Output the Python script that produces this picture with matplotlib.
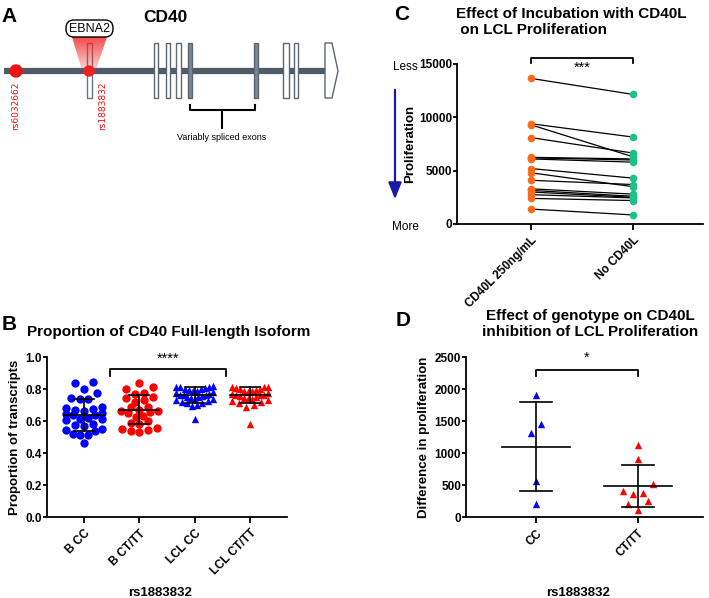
import numpy as np
import matplotlib.pyplot as plt
from matplotlib.patches import Rectangle, Polygon, FancyBboxPatch, Circle

plt.rcParams['font.family'] = ['Liberation Sans', 'DejaVu Sans']

# ---- данные ----
# панель A: схема гена (пиксели)
exon_x = [154, 166, 176, 188, 254, 283, 294]
exon_w = [4, 4, 5, 4, 4, 6, 4]
exon_filled = [False, False, False, True, True, False, False]

# панель B: доля полноразмерной изоформы
b_groups = ['B CC', 'B CT/TT', 'LCL CC', 'LCL CT/TT']
b_cc = [0.845, 0.835, 0.80, 0.775, 0.745, 0.74, 0.735, 0.69, 0.68, 0.675, 0.67, 0.665,
        0.65, 0.645, 0.64, 0.635, 0.62, 0.615, 0.61, 0.605, 0.58, 0.575, 0.57, 0.55,
        0.545, 0.535, 0.52, 0.515, 0.51, 0.46]
b_ct = [0.84, 0.81, 0.80, 0.775, 0.77, 0.75, 0.745, 0.73, 0.72, 0.69, 0.685, 0.67,
        0.665, 0.66, 0.655, 0.65, 0.63, 0.625, 0.60, 0.59, 0.58, 0.555, 0.55, 0.545,
        0.535, 0.53]
lcl_cc = [0.82, 0.815, 0.81, 0.81, 0.805, 0.80, 0.80, 0.795, 0.79, 0.785, 0.78, 0.775,
          0.77, 0.765, 0.76, 0.76, 0.755, 0.75, 0.75, 0.745, 0.74, 0.735, 0.73, 0.725,
          0.72, 0.715, 0.71, 0.70, 0.695, 0.61]
lcl_ct = [0.815, 0.81, 0.81, 0.805, 0.80, 0.80, 0.795, 0.79, 0.785, 0.78, 0.775, 0.77,
          0.765, 0.76, 0.76, 0.755, 0.75, 0.745, 0.74, 0.735, 0.73, 0.725, 0.72, 0.71,
          0.70, 0.69, 0.58]
b_mean = [0.64, 0.67, 0.76, 0.76]
b_sd = [0.10, 0.09, 0.05, 0.05]

# панель C: пролиферация (парные)
c_groups = ['CD40L 250ng/mL', 'No CD40L']
c_cd40l = [13650, 9400, 9300, 8100, 6250, 6200, 6100, 5200, 4800, 4100, 3300, 3150,
           3000, 2750, 2400, 1400]
c_none = [12150, 8150, 6300, 6650, 6100, 6000, 5800, 4300, 3500, 3700, 2800, 2600,
          2500, 2450, 2200, 850]

# панель D: разница в пролиферации
d_groups = ['CC', 'CT/TT']
d_cc = [1910, 1450, 1320, 570, 210]
d_ct = [1120, 900, 510, 405, 380, 365, 250, 200, 115]
d_mean = [1100, 480]
d_sd = [690, 330]

W, H = 709, 598
fig = plt.figure(figsize=(7.09, 5.98), dpi=100)


def px_axes(l, t, r, b):
    return fig.add_axes([l / W, 1 - b / H, (r - l) / W, (b - t) / H])


def swarm(vals, binh, step, maxw):
    vals = np.asarray(vals, float)
    order = np.argsort(vals)
    off = np.zeros(len(vals))
    groups, cur = [], [order[0]]
    for i in order[1:]:
        if vals[i] - vals[cur[0]] < binh:
            cur.append(i)
        else:
            groups.append(cur)
            cur = [i]
    groups.append(cur)
    for g in groups:
        n = len(g)
        st = step if n < 2 else min(step, 2 * maxw / (n - 1))
        pos = (np.arange(n) - (n - 1) / 2) * st
        # раскладываем от центра в стороны
        idx = np.argsort(np.abs(pos), kind='stable')
        for k, j in enumerate(g):
            off[j] = pos[idx[k]]
    return off


def style_axes(ax):
    for s in ['top', 'right']:
        ax.spines[s].set_visible(False)
    for s in ['left', 'bottom']:
        ax.spines[s].set_linewidth(1.3)
    ax.tick_params(width=1.3, length=4, labelsize=8.5)
    ax.tick_params(axis='y', length=3, pad=0.5)
    for lab in ax.get_xticklabels() + ax.get_yticklabels():
        lab.set_fontweight('bold')
    ax.set_facecolor('none')


# ---- оверлей для схемы и подписей ----
ov = fig.add_axes([0, 0, 1, 1])
ov.set_xlim(0, W)
ov.set_ylim(H, 0)
ov.axis('off')

# панель A
gray = '#4f5b69'
ov.add_patch(Rectangle((87, 43), 5, 55, fc='white', ec='#6a7480', lw=1, zorder=2))
ov.plot([4, 325], [71, 71], color=gray, lw=4.5, solid_capstyle='butt', zorder=3)
for x, w, f in zip(exon_x, exon_w, exon_filled):
    ov.add_patch(Rectangle((x, 43), w, 55, fc='#7d8894' if f else 'white',
                           ec='#5c6672', lw=1, zorder=4))
ov.add_patch(Polygon([[325, 43], [332, 43], [338, 71], [332, 98], [325, 98]],
                     closed=True, fc='white', ec='#5c6672', lw=1, zorder=4))
# красный "луч" от EBNA2
grad = np.zeros((60, 1, 4))
grad[:, 0, 0] = 0.95
grad[:, 0, 1] = 0.15
grad[:, 0, 2] = 0.15
grad[:, 0, 3] = np.linspace(0.85, 0.15, 60)
im = ov.imshow(grad, extent=(70, 108, 72, 36), aspect='auto', zorder=5)
beam = Polygon([[72, 37], [107, 37], [96, 70], [82, 70]], closed=True,
               transform=ov.transData, fc='none', ec='none')
ov.add_patch(beam)
im.set_clip_path(beam)
ov.set_xlim(0, W)
ov.set_ylim(H, 0)
ov.add_patch(FancyBboxPatch((66, 20), 47, 17, boxstyle='round,pad=0,rounding_size=8',
                            fc='white', ec='black', lw=1, zorder=6))
ov.text(89.5, 29, 'EBNA2', ha='center', va='center', fontsize=9, zorder=7)
ov.add_patch(Circle((16, 71), 6, color='#ee1111', zorder=6))
ov.add_patch(Circle((89, 71), 5, color='#ee2222', zorder=6))
ov.text(16, 82, 'rs6032662', rotation=90, ha='center', va='top', color='#ee1111',
        fontsize=6.5, family='DejaVu Sans')
ov.text(103, 82, 'rs1883832', rotation=90, ha='center', va='top', color='#ee1111',
        fontsize=6.5, family='DejaVu Sans')
ov.text(165, 17, 'CD40', ha='center', va='center', fontsize=12.5, fontweight='bold')
ov.plot([190, 190, 255, 255], [105, 110, 110, 105], color='black', lw=1.5)
ov.plot([222, 222], [110, 128], color='black', lw=1.5)
ov.text(222, 138, 'Variably spliced exons', ha='center', va='center', fontsize=6.5)

# буквы панелей
for lab, x, y in [('A', 9, 17), ('B', 9, 325), ('C', 402, 14), ('D', 403, 320)]:
    ov.text(x, y, lab, ha='center', va='center', fontsize=15, fontweight='bold')

# стрелка "Less -> More"
ov.text(405, 67, 'Less', ha='center', va='center', fontsize=8.5)
ov.text(405, 227, 'More', ha='center', va='center', fontsize=8.5)
ov.annotate('', xy=(395, 202), xytext=(395, 87),
            arrowprops=dict(arrowstyle='-|>,head_width=0.4,head_length=1.0',
                            color='#1a1aa8', lw=1.6))

# ---- панель B ----
axb = px_axes(47, 357, 287, 517)
bx = np.arange(4)
b_data = [b_cc, b_ct, lcl_cc, lcl_ct]
b_col = ['#0000ff', '#ff0000', '#0000ff', '#ff0000']
b_mk = ['o', 'o', '^', '^']
b_ms = [36, 36, 28, 28]
for i, vals in enumerate(b_data):
    off = swarm(vals, 0.045, 0.16, 0.33)
    axb.scatter(bx[i] + off, vals, s=b_ms[i], c=b_col[i], marker=b_mk[i],
                linewidths=0, zorder=3, clip_on=False)
    m, s = b_mean[i], b_sd[i]
    axb.plot([bx[i] - 0.36, bx[i] + 0.36], [m, m], color='black', lw=1.2, zorder=4)
    axb.plot([bx[i], bx[i]], [m - s, m + s], color='black', lw=1.2, zorder=4)
    for e in (m - s, m + s):
        axb.plot([bx[i] - 0.18, bx[i] + 0.18], [e, e], color='black', lw=1.2, zorder=4)
axb.set_xlim(-0.67, 3.67)
axb.set_ylim(0, 1.0)
axb.set_yticks(np.arange(0, 1.01, 0.2))
axb.set_yticklabels(['%.1f' % v for v in np.arange(0, 1.01, 0.2)])
axb.set_xticks(bx)
axb.set_xticklabels(b_groups, rotation=45, ha='right', va='top', rotation_mode='anchor')
style_axes(axb)
axb.set_ylabel('Proportion of transcripts', fontsize=9.5, fontweight='bold', labelpad=3)
axb.plot([0.47, 0.47, 2.57, 2.57], [0.88, 0.925, 0.925, 0.88], color='black', lw=1.3,
         clip_on=False)
axb.text(1.52, 0.99, '****', ha='center', va='center', fontsize=10.5)
fig.text(160 / W, 1 - 593 / H, 'rs1883832', ha='center', va='center', fontsize=9.5,
         fontweight='bold')
fig.text(27 / W, 1 - 332 / H, 'Proportion of CD40 Full-length Isoform', ha='left',
         va='center', fontsize=11, fontweight='bold')

# ---- панель C ----
axc = px_axes(457, 64, 703, 224)
for a, b in zip(c_cd40l, c_none):
    axc.plot([0, 1], [a, b], color='black', lw=0.9, zorder=2)
axc.scatter(np.zeros(len(c_cd40l)), c_cd40l, s=30, c='#f96a1b', linewidths=0, zorder=3,
            clip_on=False)
axc.scatter(np.ones(len(c_none)), c_none, s=30, c='#1fbf8a', linewidths=0, zorder=3,
            clip_on=False)
axc.set_xlim(-0.725, 1.686)
axc.set_ylim(0, 15000)
axc.set_yticks([0, 5000, 10000, 15000])
axc.set_xticks([0, 1])
axc.set_xticklabels(c_groups, rotation=45, ha='right', va='top', rotation_mode='anchor')
style_axes(axc)
axc.set_ylabel('Proliferation', fontsize=9.5, fontweight='bold', labelpad=2)
axc.plot([0, 0, 1, 1], [15100, 15560, 15560, 15100], color='black', lw=1.3, clip_on=False)
axc.text(0.5, 14650, '***', ha='center', va='center', fontsize=10.5)
fig.text(456 / W, 1 - 22 / H, 'Effect of Incubation with CD40L\n on LCL Proliferation',
         ha='left', va='center', fontsize=11, fontweight='bold', linespacing=1.1)

# ---- панель D ----
axd = px_axes(466, 357, 703, 517)
d_data = [d_cc, d_ct]
d_col = ['#0000ff', '#ff0000']
for i, vals in enumerate(d_data):
    off = swarm(vals, 160, 0.095, 0.3)
    axd.scatter(i + off, vals, s=28, c=d_col[i], marker='^', linewidths=0, zorder=3,
                clip_on=False)
    m, s = d_mean[i], d_sd[i]
    axd.plot([i - 0.33, i + 0.33], [m, m], color='black', lw=1.2, zorder=4)
    axd.plot([i, i], [m - s, m + s], color='black', lw=1.2, zorder=4)
    for e in (m - s, m + s):
        axd.plot([i - 0.16, i + 0.16], [e, e], color='black', lw=1.2, zorder=4)
axd.set_xlim(-0.686, 1.637)
axd.set_ylim(0, 2500)
axd.set_yticks(np.arange(0, 2501, 500))
axd.set_xticks([0, 1])
axd.set_xticklabels(d_groups, rotation=45, ha='right', va='top', rotation_mode='anchor')
style_axes(axd)
axd.set_ylabel('Difference in proliferation', fontsize=9.5, fontweight='bold', labelpad=3)
axd.plot([0, 0, 1, 1], [2203, 2297, 2297, 2203], color='black', lw=1.3, clip_on=False)
axd.text(0.5, 2480, '*', ha='center', va='center', fontsize=10.5)
fig.text(578 / W, 1 - 593 / H, 'rs1883832', ha='center', va='center', fontsize=9.5,
         fontweight='bold')
fig.text(590 / W, 1 - 324 / H, 'Effect of genotype on CD40L\ninhibition of LCL Proliferation',
         ha='center', va='center', fontsize=11, fontweight='bold', linespacing=1.1)

fig.savefig('out.png', dpi=100)
